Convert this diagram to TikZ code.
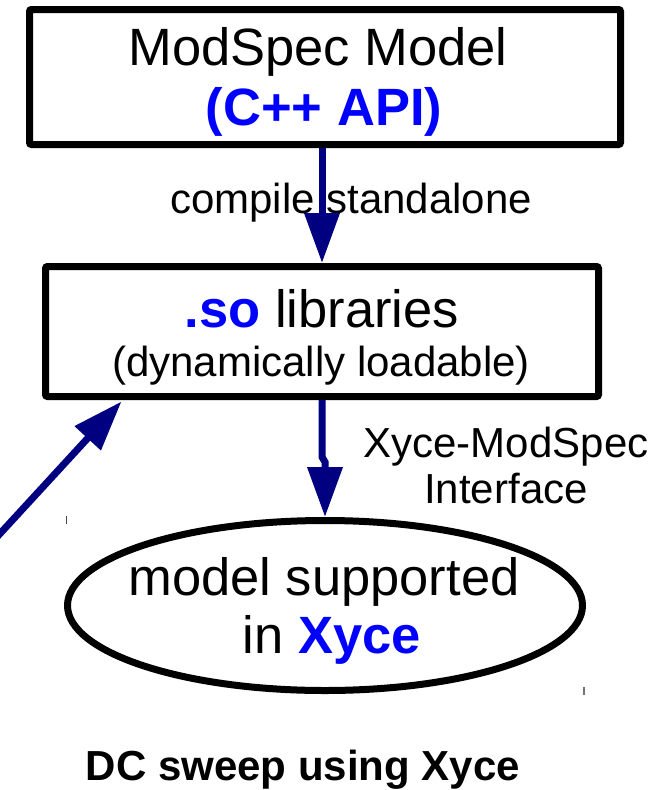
\documentclass[tikz,border=0pt]{standalone}
\usepackage{fontspec}
\setmainfont{Liberation Sans}
\usetikzlibrary{arrows.meta,shapes.geometric}
\definecolor{navyarrow}{RGB}{0,0,128}
\definecolor{textblue}{RGB}{0,0,255}
\tikzset{
  box/.style={draw=black, line width=7pt, rounded corners=2pt, inner sep=0pt},
  oval/.style={ellipse, draw=black, line width=7pt, inner sep=0pt},
  bigtext/.style={font=\fontsize{52.5}{58}\selectfont, anchor=base, inner sep=0pt},
  smalltext/.style={font=\fontsize{42}{47}\selectfont, anchor=base, inner sep=0pt},
  flow/.style={draw=navyarrow, line width=7pt, -{Triangle[length=50pt,width=34pt]}},
  tick/.style={draw=black!70, line width=1.2pt}
}
\begin{document}
\begin{tikzpicture}[x=1pt,y=-1pt]
\useasboundingbox (0,0) rectangle (664,790);
% boxes
\node[box, minimum width=591pt, minimum height=135pt] (mod) at (325,77) {};
\node[box, minimum width=553pt, minimum height=130pt] (lib) at (322,331.5) {};
\node[oval, minimum width=515pt, minimum height=170pt] (ell) at (325,605.5) {};
% texts
\node[bigtext] (modA) at (318,65) {ModSpec Model};
\node[bigtext] (modB) at (324,125) {\textcolor{textblue}{\bfseries (C++ API)}};
\node[bigtext] (libA) at (322,327) {\textcolor{textblue}{\bfseries .so} libraries};
\node[smalltext] (libB) at (321,376) {(dynamically loadable)};
\node[bigtext] (ellA) at (324,595) {model supported};
\node[bigtext] (ellB) at (332,653) {in \textcolor{textblue}{\bfseries Xyce}};
\node[smalltext] (lab1) at (351,213) {compile standalone};
\node[smalltext] (lab2a) at (506,457) {Xyce-ModSpec};
\node[smalltext] (lab2b) at (506,503) {Interface};
\node[smalltext, font=\fontsize{42}{47}\selectfont\bfseries] (cap) at (303,780) {DC sweep using Xyce};
% connectors
\draw[flow] (lib.north |- mod.south) -- (lib.north);
\coordinate (k1) at (322,457);
\coordinate (k2) at (325,462);
\draw[flow] (lib.south) -- (k1) -- (k2) -- (k2 |- ell.north);
\coordinate (src) at (-4,538);
\draw[flow] (src) -- ([shift={(79.5,1.5)}]lib.south west);
% small marks
\draw[tick] (66.7,516) -- (66.7,524);
\draw[tick, draw=black!55, line width=2pt] (584,687) -- (584,695);
\end{tikzpicture}
\end{document}
